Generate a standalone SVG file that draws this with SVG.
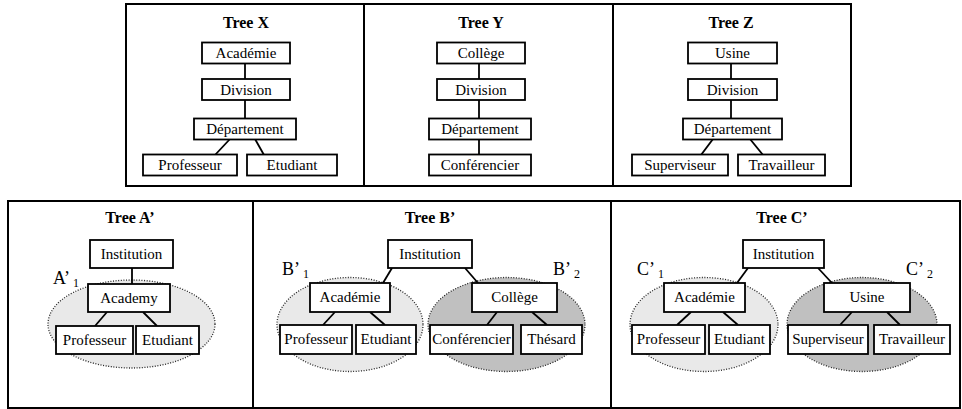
<svg xmlns="http://www.w3.org/2000/svg" width="962" height="409" viewBox="0 0 962 409">
<style>
.frame{fill:none;stroke:#000;stroke-width:2}
.box{fill:#fff;stroke:#000;stroke-width:1.8}
.edge{stroke:#000;stroke-width:1.8;fill:none}
.t{font-family:"Liberation Serif","Times New Roman",serif;font-size:15px;text-anchor:middle;fill:#000}
.title{font-family:"Liberation Serif","Times New Roman",serif;font-size:16px;font-weight:bold;text-anchor:middle;fill:#000}
.lab{font-family:"Liberation Serif","Times New Roman",serif;font-size:18px;fill:#000}
.ell1{fill:#e9e9e9;stroke:#222;stroke-width:1.3;stroke-dasharray:1 1.6}
.ell2{fill:#c0c0c0;stroke:#222;stroke-width:1.3;stroke-dasharray:1 1.6}
</style>
<rect width="962" height="409" fill="#fff"/>
<g id="frames">
<rect class="frame" x="126" y="4" width="725" height="182"/>
<line class="frame" x1="364" y1="4" x2="364" y2="186"/>
<line class="frame" x1="613" y1="4" x2="613" y2="186"/>
<rect class="frame" x="8" y="201" width="952" height="207"/>
<line class="frame" x1="253" y1="201" x2="253" y2="408"/>
<line class="frame" x1="611" y1="201" x2="611" y2="408"/>
</g>
<g id="titles">
<text class="title" x="246" y="28">Tree X</text>
<text class="title" x="481" y="28">Tree Y</text>
<text class="title" x="731" y="28">Tree Z</text>
<text class="title" x="130" y="223">Tree A’</text>
<text class="title" x="430" y="223">Tree B’</text>
<text class="title" x="782" y="223">Tree C’</text>
</g>
<g id="clusters">
<ellipse id="A1" class="ell1" cx="131.5" cy="324" rx="83.5" ry="44"/>
<ellipse id="B1" class="ell1" cx="350" cy="324.5" rx="73" ry="47"/>
<ellipse id="B2" class="ell2" cx="506.5" cy="324.5" rx="78.5" ry="47"/>
<ellipse id="C1" class="ell1" cx="704" cy="324.5" rx="74" ry="47"/>
<ellipse id="C2" class="ell2" cx="862" cy="324.5" rx="75" ry="47"/>
</g>
<g id="connectors">
<line class="edge" x1="245" y1="63" x2="245" y2="79"/>
<line class="edge" x1="245" y1="100" x2="245" y2="119"/>
<line class="edge" x1="230" y1="139" x2="215" y2="155"/>
<line class="edge" x1="255" y1="139" x2="264" y2="155"/>
<line class="edge" x1="479" y1="63" x2="479" y2="79"/>
<line class="edge" x1="479" y1="100" x2="479" y2="119"/>
<line class="edge" x1="479" y1="139" x2="479" y2="155"/>
<line class="edge" x1="731" y1="63" x2="731" y2="79"/>
<line class="edge" x1="731" y1="100" x2="731" y2="119"/>
<line class="edge" x1="713" y1="139" x2="701" y2="155"/>
<line class="edge" x1="750" y1="139" x2="763" y2="155"/>
<line class="edge" x1="132" y1="268" x2="132" y2="284"/>
<line class="edge" x1="107" y1="312" x2="95" y2="326"/>
<line class="edge" x1="143" y1="312" x2="157" y2="326"/>
<line class="edge" x1="392" y1="268" x2="383" y2="283"/>
<line class="edge" x1="465" y1="268" x2="478" y2="283"/>
<line class="edge" x1="335" y1="312" x2="323" y2="325"/>
<line class="edge" x1="370" y1="312" x2="385" y2="325"/>
<line class="edge" x1="497" y1="312" x2="487" y2="325"/>
<line class="edge" x1="532" y1="312" x2="547" y2="325"/>
<line class="edge" x1="748" y1="268" x2="737" y2="283"/>
<line class="edge" x1="818" y1="268" x2="832" y2="283"/>
<line class="edge" x1="691" y1="312" x2="677" y2="325"/>
<line class="edge" x1="723" y1="312" x2="738" y2="325"/>
<line class="edge" x1="852" y1="312" x2="840" y2="325"/>
<line class="edge" x1="887" y1="312" x2="900" y2="325"/>
</g>
<g id="X-academie"><rect class="box" x="202" y="42.5" width="88" height="21"/><text class="t" x="246" y="58">Académie</text></g>
<g id="X-division"><rect class="box" x="202" y="79" width="88" height="21"/><text class="t" x="246" y="94.5">Division</text></g>
<g id="X-departement"><rect class="box" x="194" y="118.5" width="102" height="21"/><text class="t" x="245" y="134">Département</text></g>
<g id="X-professeur"><rect class="box" x="143" y="154.5" width="94" height="21"/><text class="t" x="190" y="170">Professeur</text></g>
<g id="X-etudiant"><rect class="box" x="247" y="154.5" width="90" height="21"/><text class="t" x="292" y="170">Etudiant</text></g>
<g id="Y-college"><rect class="box" x="437" y="42.5" width="88" height="21"/><text class="t" x="481" y="58">Collège</text></g>
<g id="Y-division"><rect class="box" x="437" y="79" width="88" height="21"/><text class="t" x="481" y="94.5">Division</text></g>
<g id="Y-departement"><rect class="box" x="429" y="118.5" width="102" height="21"/><text class="t" x="480" y="134">Département</text></g>
<g id="Y-conferencier"><rect class="box" x="429" y="154.5" width="102" height="21"/><text class="t" x="480" y="170">Conférencier</text></g>
<g id="Z-usine"><rect class="box" x="688" y="42.5" width="89" height="21"/><text class="t" x="732.5" y="58">Usine</text></g>
<g id="Z-division"><rect class="box" x="688" y="79" width="89" height="21"/><text class="t" x="732.5" y="94.5">Division</text></g>
<g id="Z-departement"><rect class="box" x="683" y="118.5" width="99" height="21"/><text class="t" x="732.5" y="134">Département</text></g>
<g id="Z-superviseur"><rect class="box" x="632" y="154.5" width="96" height="21"/><text class="t" x="680" y="170">Superviseur</text></g>
<g id="Z-travailleur"><rect class="box" x="738" y="154.5" width="87" height="21"/><text class="t" x="781.5" y="170">Travailleur</text></g>
<g id="A-institution"><rect class="box" x="90" y="240" width="83" height="28"/><text class="t" x="131.5" y="259">Institution</text></g>
<g id="A-academy"><rect class="box" x="88" y="284" width="82" height="28"/><text class="t" x="129" y="303">Academy</text></g>
<g id="A-professeur"><rect class="box" x="56" y="326" width="77" height="28"/><text class="t" x="94.5" y="345">Professeur</text></g>
<g id="A-etudiant"><rect class="box" x="136" y="326" width="63" height="28"/><text class="t" x="167.5" y="345">Etudiant</text></g>
<g id="B-institution"><rect class="box" x="388" y="240" width="84" height="28"/><text class="t" x="430" y="259">Institution</text></g>
<g id="B-academie"><rect class="box" x="310" y="283" width="80" height="29"/><text class="t" x="350" y="302">Académie</text></g>
<g id="B-professeur"><rect class="box" x="280" y="325" width="72" height="29"/><text class="t" x="316" y="344">Professeur</text></g>
<g id="B-etudiant"><rect class="box" x="356" y="325" width="60" height="29"/><text class="t" x="386" y="344">Etudiant</text></g>
<g id="B-college"><rect class="box" x="472" y="283" width="85" height="29"/><text class="t" x="514.5" y="302">Collège</text></g>
<g id="B-conferencier"><rect class="box" x="430" y="325" width="83" height="29"/><text class="t" x="471.5" y="344">Conférencier</text></g>
<g id="B-thesard"><rect class="box" x="521" y="325" width="61" height="29"/><text class="t" x="551.5" y="344">Thésard</text></g>
<g id="C-institution"><rect class="box" x="743" y="240" width="81" height="28"/><text class="t" x="783.5" y="259">Institution</text></g>
<g id="C-academie"><rect class="box" x="664" y="283" width="81" height="29"/><text class="t" x="704.5" y="302">Académie</text></g>
<g id="C-professeur"><rect class="box" x="632" y="325" width="73" height="29"/><text class="t" x="668.5" y="344">Professeur</text></g>
<g id="C-etudiant"><rect class="box" x="709" y="325" width="61" height="29"/><text class="t" x="739.5" y="344">Etudiant</text></g>
<g id="C-usine"><rect class="box" x="824" y="283" width="86" height="29"/><text class="t" x="867" y="302">Usine</text></g>
<g id="C-superviseur"><rect class="box" x="788" y="325" width="80" height="29"/><text class="t" x="828" y="344">Superviseur</text></g>
<g id="C-travailleur"><rect class="box" x="874" y="325" width="76" height="29"/><text class="t" x="912" y="344">Travailleur</text></g>
<g id="labels">
<text class="lab" x="53" y="284">A’<tspan font-size="12" dx="3" dy="3">1</tspan></text>
<text class="lab" x="282" y="275">B’<tspan font-size="12" dx="3" dy="3">1</tspan></text>
<text class="lab" x="553" y="275">B’<tspan font-size="12" dx="3" dy="3">2</tspan></text>
<text class="lab" x="637" y="275">C’<tspan font-size="12" dx="3" dy="3">1</tspan></text>
<text class="lab" x="906" y="275">C’<tspan font-size="12" dx="3" dy="3">2</tspan></text>
</g>
</svg>
